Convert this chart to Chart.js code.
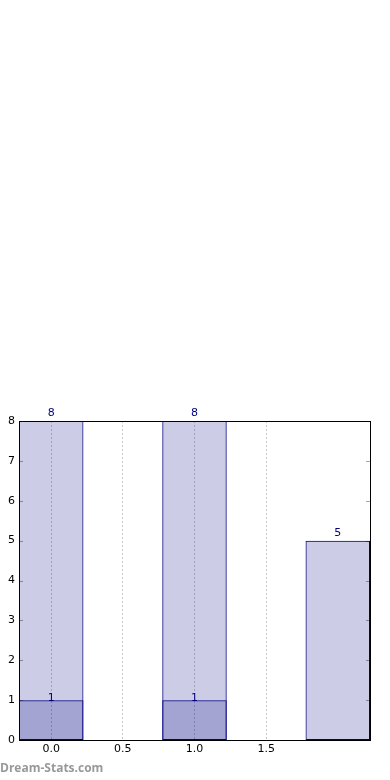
<!DOCTYPE html>
<html>
<head>
<meta charset="utf-8">
<script src="https://cdn.jsdelivr.net/npm/chart.js@4"></script>
<style>
  html, body { margin: 0; padding: 0; background: #fff; }
  #wrap { position: relative; width: 390px; height: 780px; }
  #mark { position: absolute; left: 0; top: 760px; font: bold 12px "Open Sans", sans-serif; line-height: 16px; color: #999; }
</style>
</head>
<body>
<div id="wrap">
  <canvas id="chart"></canvas>
  <div id="mark">Dream-Stats.com</div>
</div>
<script>
// --- data ---
const positions = [0, 1, 2]
const totals = [8, 8, 5]
const subset = [1, 1, 0]
const xTicks = [0, 0.5, 1, 1.5]
const yTicks = [0, 1, 2, 3, 4, 5, 6, 7, 8]

const navy = '#000080'
const fill = 'rgba(0, 0, 128, 0.2)'
const font = { family: 'DejaVu Sans', size: 11 }

// frame + inward tick marks
const frame = {
  id: 'frame',
  afterDraw(chart) {
    const { ctx, chartArea: a, scales } = chart
    ctx.save()
    ctx.strokeStyle = 'rgba(0,0,0,0.35)'
    ctx.lineWidth = 1
    ctx.beginPath()
    for (const v of yTicks) {
      const y = Math.round(scales.y.getPixelForValue(v)) + 0.5
      ctx.moveTo(a.left, y); ctx.lineTo(a.left + 4, y)
      ctx.moveTo(a.right, y); ctx.lineTo(a.right - 4, y)
    }
    ctx.stroke()
    ctx.strokeStyle = '#000'
    ctx.strokeRect(Math.round(a.left) + 0.5, Math.round(a.top) + 0.5,
      Math.round(a.right - a.left), Math.round(a.bottom - a.top))
    ctx.restore()
  },
}

// value labels above the bars
const barLabels = {
  id: 'barLabels',
  afterDatasetsDraw(chart) {
    const { ctx } = chart
    ctx.save()
    ctx.fillStyle = navy
    ctx.font = '11px "DejaVu Sans"'
    ctx.textAlign = 'center'
    ctx.textBaseline = 'bottom'
    chart.data.datasets.forEach((ds, i) => {
      chart.getDatasetMeta(i).data.forEach((bar, j) => {
        const v = ds.data[j].y
        if (!v) return
        ctx.fillText(String(v), bar.x, bar.y + (i === 1 ? 4 : -2))
      })
    })
    ctx.restore()
  },
}

new Chart(document.getElementById('chart'), {
  type: 'bar',
  data: {
    datasets: [
      {
        data: positions.map((x, i) => ({ x, y: totals[i] })),
        backgroundColor: fill,
        borderColor: navy,
        borderWidth: 1,
        borderSkipped: false,
      },
      {
        data: positions.map((x, i) => ({ x, y: subset[i] })),
        backgroundColor: fill,
        borderColor: navy,
        borderWidth: 1,
        borderSkipped: false,
      },
    ],
  },
  options: {
    responsive: true,
    maintainAspectRatio: false,
    animation: false,
    categoryPercentage: 1,
    barPercentage: 0.9,
    layout: { padding: { top: 421, right: 20, left: 0, bottom: 0 } },
    plugins: { legend: { display: false }, tooltip: { enabled: false } },
    scales: {
      x: {
        type: 'linear',
        stacked: true,
        offset: false,
        min: -0.225,
        max: 2.225,
        z: 1,
        afterBuildTicks: s => { s.ticks = xTicks.map(value => ({ value })) },
        afterFit: s => { s.height = 40 },
        border: { display: false, dash: [2, 2] },
        grid: { color: 'rgba(0,0,0,0.22)', drawTicks: false, offset: false },
        ticks: { color: '#000', font, padding: 3, callback: v => v.toFixed(1) },
      },
      y: {
        stacked: false,
        min: 0,
        max: 8,
        afterBuildTicks: s => { s.ticks = yTicks.map(value => ({ value })) },
        afterFit: s => { s.width = 19 },
        border: { display: false },
        grid: { display: false, drawTicks: false },
        ticks: { color: '#000', font, padding: 4 },
      },
    },
  },
  plugins: [frame, barLabels],
})
</script>
</body>
</html>
